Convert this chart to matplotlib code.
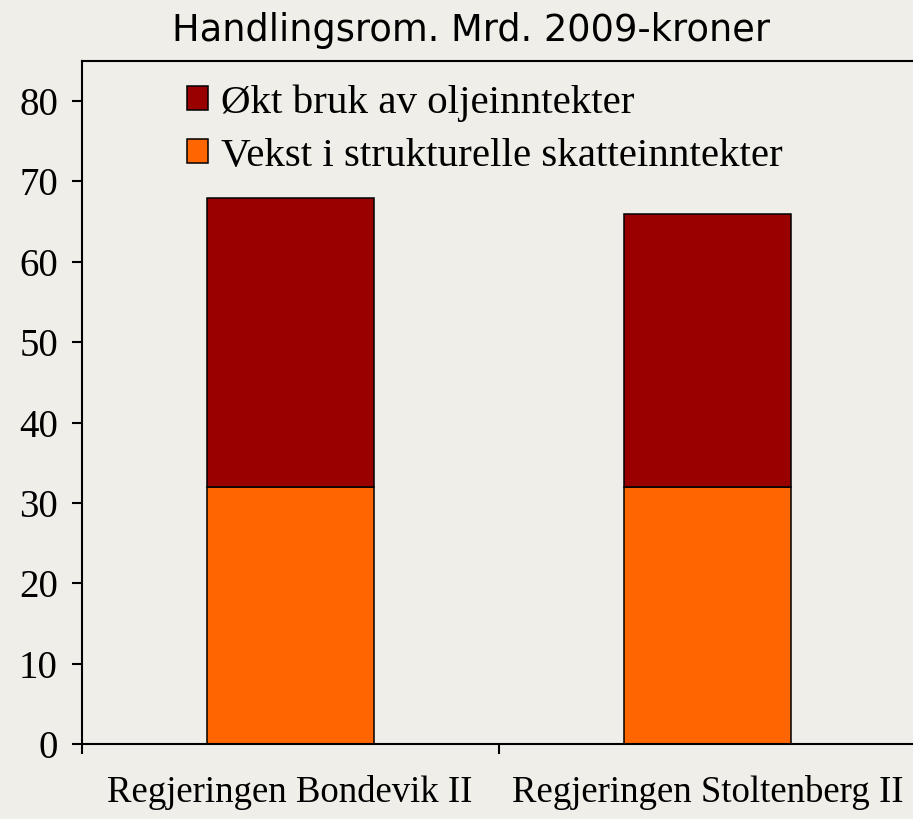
import matplotlib.pyplot as plt

regjeringer = ["Regjeringen Bondevik II", "Regjeringen Stoltenberg II"]
skatt = [32, 32]
olje = [36, 34]
serier = ["Økt bruk av oljeinntekter", "Vekst i strukturelle skatteinntekter"]

bg = "#efeee8"
fig = plt.figure(figsize=(9.13, 8.19), dpi=100, facecolor=bg)
ax = fig.add_axes([0.0893, 0.0916, 0.914, 0.834], facecolor=bg)

x = range(len(regjeringer))
b1 = ax.bar(x, skatt, width=0.4, color="#ff6600", edgecolor="black", linewidth=1.1)
b2 = ax.bar(x, olje, width=0.4, bottom=skatt, color="#990000", edgecolor="black", linewidth=1.1)

ax.set_xlim(-0.5, 1.5)
ax.set_ylim(0, 85)
ax.set_yticks(range(0, 81, 10))
ax.set_xticks([-0.5, 0.5, 1.5])
ax.set_xticklabels([])
ax.set_xticks(list(x), minor=True)
ax.set_xticklabels(regjeringer, minor=True, fontfamily="Liberation Serif", fontsize=26.5)
ax.tick_params(axis="x", which="major", direction="out", length=7, width=1.5)
ax.tick_params(axis="x", which="minor", length=0, pad=22)
ax.tick_params(axis="y", direction="out", length=7, width=1.5, pad=10)
for lab in ax.get_yticklabels():
    lab.set_fontfamily("Liberation Serif")
    lab.set_fontsize(28)
for s in ax.spines.values():
    s.set_linewidth(1.5)

ax.legend([b2, b1], serier, loc="upper left", bbox_to_anchor=(187 / 913, 1 - 84 / 819),
          bbox_transform=fig.transFigure, frameon=False, borderpad=0, borderaxespad=0,
          handlelength=0.52, handleheight=0.52, handletextpad=0.3, labelspacing=0.4,
          prop={"family": "Liberation Serif", "size": 29.5})

fig.text(471 / 913, 1 - 41 / 819, "Handlingsrom. Mrd. 2009-kroner", ha="center", va="baseline",
         fontsize=26.5, fontfamily="DejaVu Sans")

fig.savefig("out.png", dpi=100, facecolor=bg)
